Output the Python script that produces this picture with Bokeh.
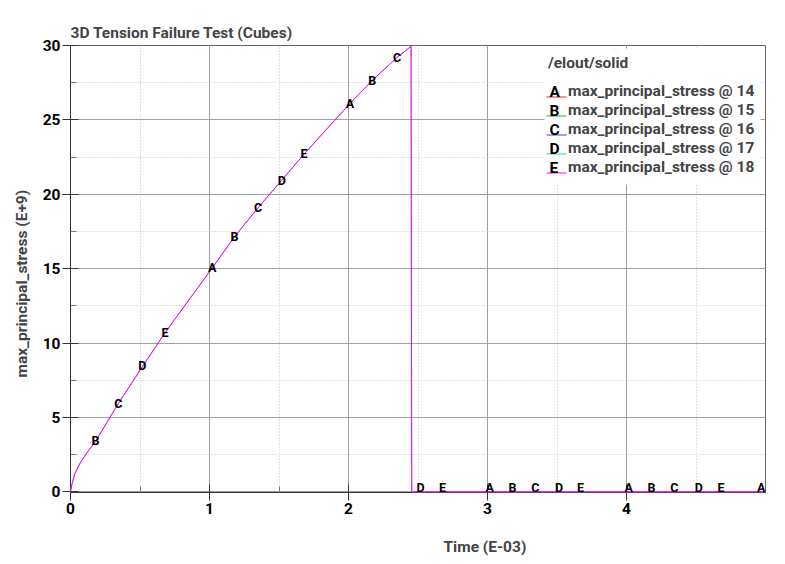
from bokeh.plotting import figure
from bokeh.models import (ColumnDataSource, FixedTicker, Legend, LegendItem,
                          LabelSet, Title, Range1d, BoxAnnotation, LinearAxis)
from bokeh.core.properties import value
from bokeh.embed import file_html
from bokeh.resources import INLINE

# ---- data ----
time_ms = [0, 0.01, 0.03, 0.07, 0.12, 0.18, 0.345, 0.52, 0.68, 1.02, 1.18,
           1.35, 1.52, 1.68, 2.01, 2.17, 2.35, 2.45, 2.455, 5.0]
stress_gpa = [0, 0.5, 1.2, 1.95, 2.65, 3.4, 5.95, 8.45, 10.7, 15.05, 17.15,
              19.1, 20.95, 22.7, 26.1, 27.65, 29.2, 29.95, 0, 0]

series_ids = [14, 15, 16, 17, 18]
series_letters = ["A", "B", "C", "D", "E"]
series_colors = ["#ff2020", "#20c020", "#4040cc", "#20dddd", "#ff00ff"]

x_ticks = [0, 1, 2, 3, 4]
x_minor = [0.5, 1.5, 2.5, 3.5, 4.5]
y_ticks = [0, 5, 10, 15, 20, 25, 30]
y_minor = [2.5, 7.5, 12.5, 17.5, 22.5, 27.5]

label_letters = ["B", "C", "D", "E", "A", "B", "C", "D", "E", "A", "B", "C",
                 "D", "E", "A", "B", "C", "D", "E", "A", "B", "C", "D", "E", "A"]
label_x = [0.18, 0.345, 0.516, 0.68, 1.02, 1.18, 1.35, 1.52, 1.68, 2.01, 2.17, 2.35,
           2.518, 2.676, 3.015, 3.18, 3.345, 3.515, 3.67, 4.015, 4.18, 4.345, 4.52, 4.68, 5.0]
label_y = [3.12, 5.65, 8.16, 10.42, 14.75, 16.88, 18.83, 20.63, 22.43, 25.8, 27.35, 28.9,
           0, 0, 0, 0, 0, 0, 0, 0, 0, 0, 0, 0, 0]

FONT = "Roboto"
FS = "15.5px"

p = figure(width=783, height=562, output_backend="svg", toolbar_location=None,
           x_range=Range1d(0, 5), y_range=Range1d(-0.04, 30),
           min_border_left=70, min_border_right=18, min_border_top=45,
           min_border_bottom=70)

p.background_fill_color = "white"
p.border_fill_color = "white"
p.outline_line_color = "#666666"

# title
p.title.text = "3D Tension Failure Test (Cubes)"
p.title.text_font = FONT
p.title.text_font_size = FS
p.title.text_font_style = "bold"
p.title.align = "left"
p.title.standoff = 8

# axes
xt = FixedTicker(ticks=x_ticks, minor_ticks=x_minor)
yt = FixedTicker(ticks=y_ticks, minor_ticks=y_minor)
p.xaxis.ticker = xt
p.yaxis.ticker = yt
p.xgrid.ticker = xt
p.ygrid.ticker = yt
for ax in (p.xaxis[0], p.yaxis[0]):
    ax.major_label_text_font = FONT
    ax.major_label_text_font_size = FS
    ax.major_label_text_font_style = "bold"
    ax.major_label_text_color = "black"
    ax.major_label_standoff = 2
    ax.axis_line_color = "#333333"
    ax.major_tick_line_color = "#333333"
    ax.minor_tick_line_color = "#777777"
    ax.major_tick_out = 8
    ax.major_tick_in = 8
    ax.minor_tick_in = 6
    ax.minor_tick_out = 0

for g in (p.xgrid[0], p.ygrid[0]):
    g.grid_line_color = "#a0a0a0"
    g.grid_line_width = 1
    g.minor_grid_line_color = "#c4c4c4"
    g.minor_grid_line_dash = "1 2"

# blank spacer axis below the x axis (white tick on white border, no label),
# then the x label as an offset title
spacer = LinearAxis(ticker=FixedTicker(ticks=[0], minor_ticks=[]), axis_line_color=None,
                    major_tick_line_color="white", minor_tick_line_color=None,
                    major_tick_out=19, major_tick_in=0, minor_tick_out=0,
                    minor_tick_in=0, major_label_standoff=0,
                    major_label_overrides={0: ""}, major_label_text_font_size="1px")
p.add_layout(spacer, "below")
xlab = Title(text="Time (E-03)", align="left", offset=373, standoff=0,
             text_font=FONT, text_font_size=FS, text_font_style="bold")
p.add_layout(xlab, "below")
ylab = Title(text="max_principal_stress (E+9)", align="left", offset=115, standoff=17,
             text_font=FONT, text_font_size=FS, text_font_style="bold")
p.add_layout(ylab, "left")

# white panel behind the legend (screen units, relative to the plot frame)
p.add_layout(BoxAnnotation(left=474, right=690, top=444, bottom=308,
                           left_units="screen", right_units="screen",
                           top_units="screen", bottom_units="screen",
                           fill_color="white", fill_alpha=1.0, line_color=None))

# curves (all five series coincide; magenta drawn last, on top)
src = ColumnDataSource(data=dict(t=time_ms, s=stress_gpa))
items = []
for i, (sid, letter, color) in enumerate(zip(series_ids, series_letters, series_colors)):
    top = i == len(series_ids) - 1
    r = p.line("t", "s", source=src, line_color=color, line_width=1,
               line_alpha=1.0 if top else 0.2)
    r.level = "overlay"
    proxy = p.line("t", "s", source=src, line_color=color, line_width=1, line_alpha=0.0)
    proxy.visible = False
    items.append(LegendItem(label=f"max_principal_stress @ {sid}", renderers=[proxy]))

# curve letters (the last one sits at the right edge of the frame)
aligns = ["center"] * (len(label_x) - 1) + ["right"]
lsrc = ColumnDataSource(data=dict(x=label_x, y=label_y, text=label_letters, align=aligns))
labels = LabelSet(x="x", y="y", text="text", source=lsrc,
                  text_font=value(FONT), text_font_size=value("12.5px"),
                  text_font_style=value("bold"), text_color="black",
                  text_align="align", text_baseline="alphabetic", level="overlay")
p.add_layout(labels)

legend = Legend(items=items, location=(478, 316), title="/elout/solid",
                title_text_font=FONT, title_text_font_size=FS,
                title_text_font_style="bold", title_standoff=10,
                label_text_font=FONT, label_text_font_size=FS,
                label_text_font_style="bold", label_text_baseline="alphabetic",
                label_standoff=0, glyph_width=20, glyph_height=18, label_height=18,
                spacing=1, padding=4, margin=0, click_policy="none",
                inactive_fill_alpha=0.0,
                border_line_color=None, background_fill_alpha=0.0)
p.add_layout(legend)

# coloured underline + letter for each legend entry (screen units, frame-relative)
for k, color in enumerate(series_colors):
    base = 396 - 19 * k
    p.add_layout(BoxAnnotation(left=476, right=496, top=base, bottom=base - 1,
                               left_units="screen", right_units="screen",
                               top_units="screen", bottom_units="screen",
                               fill_color=color, fill_alpha=1.0, line_color=None,
                               level="overlay"))
leg_src = ColumnDataSource(data=dict(
    x=[479] * 5, y=[395.3, 376.3, 357.3, 338.3, 319.3], text=series_letters))
leg_letters = LabelSet(x="x", y="y", text="text", source=leg_src,
                       x_units="screen", y_units="screen",
                       text_font=value(FONT), text_font_size=value(FS),
                       text_font_style=value("bold"), text_color="black",
                       text_align="left", text_baseline="alphabetic", level="overlay")
p.add_layout(leg_letters)

open("out.html", "w").write(file_html(p, INLINE))
